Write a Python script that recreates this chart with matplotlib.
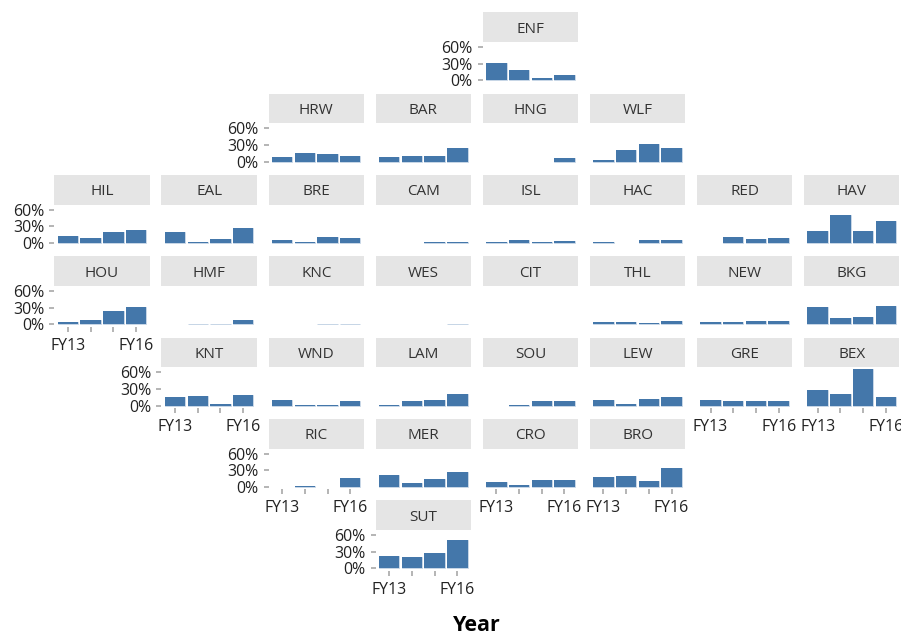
import numpy as np
import matplotlib
matplotlib.use('Agg')
import matplotlib.pyplot as plt

plt.rcParams['font.family'] = ['Open Sans', 'Noto Sans', 'DejaVu Sans']

years = ['FY13', 'FY14', 'FY15', 'FY16']
y_ticks = [0, 30, 60]

# name, column, row
panels = [('ENF', 4, 0),
          ('HRW', 2, 1), ('BAR', 3, 1), ('HNG', 4, 1), ('WLF', 5, 1),
          ('HIL', 0, 2), ('EAL', 1, 2), ('BRE', 2, 2), ('CAM', 3, 2),
          ('ISL', 4, 2), ('HAC', 5, 2), ('RED', 6, 2), ('HAV', 7, 2),
          ('HOU', 0, 3), ('HMF', 1, 3), ('KNC', 2, 3), ('WES', 3, 3),
          ('CIT', 4, 3), ('THL', 5, 3), ('NEW', 6, 3), ('BKG', 7, 3),
          ('KNT', 1, 4), ('WND', 2, 4), ('LAM', 3, 4), ('SOU', 4, 4),
          ('LEW', 5, 4), ('GRE', 6, 4), ('BEX', 7, 4),
          ('RIC', 2, 5), ('MER', 3, 5), ('CRO', 4, 5), ('BRO', 5, 5),
          ('SUT', 3, 6)]

n = None
values = {
    'ENF': [31, 18, 4, 9.5],
    'HRW': [8.5, 15, 14, 10], 'BAR': [8, 9.5, 10, 25],
    'HNG': [n, n, n, 6], 'WLF': [3, 21, 32.5, 24],
    'HIL': [12, 9, 20, 24], 'EAL': [19, 1, 6.5, 27],
    'BRE': [5, 1, 10, 9], 'CAM': [n, n, 1, 1],
    'ISL': [1, 5, 1, 3], 'HAC': [1, n, 5, 5],
    'RED': [n, 11.5, 6.5, 8.5], 'HAV': [22, 51, 21, 40],
    'HOU': [5, 7, 24.5, 31], 'HMF': [n, 0.3, 0.3, 7],
    'KNC': [n, n, 0.3, 0.3], 'WES': [n, n, n, 0.3],
    'CIT': [n, n, n, n], 'THL': [3.5, 3.5, 2.5, 6.5],
    'NEW': [5, 3.5, 6.5, 6.5], 'BKG': [30.5, 11.5, 13, 32.5],
    'KNT': [15.5, 17, 2, 20], 'WND': [9.5, 1.5, 1.5, 8],
    'LAM': [1.5, 8, 9.5, 21.5], 'SOU': [n, 1, 7.5, 7.5],
    'LEW': [9.5, 3.5, 11.5, 15.5], 'GRE': [9.5, 8, 8, 8],
    'BEX': [29, 21.5, 65.4, 15],
    'RIC': [n, 1.5, n, 15.5], 'MER': [21.5, 6.5, 14, 26],
    'CRO': [9.5, 4, 13, 13], 'BRO': [17.5, 19, 10, 33.5],
    'SUT': [22, 20.5, 26.5, 50],
}

# panels with the x axis / y axis drawn
x_axis = ['HOU', 'KNT', 'RIC', 'SUT', 'CRO', 'BRO', 'GRE', 'BEX']
y_axis = ['ENF', 'HRW', 'HIL', 'HOU', 'KNT', 'RIC', 'SUT']

W, H = 901, 632
fig = plt.figure(figsize=(W/100, H/100), dpi=100)

left0, dx = 54.3, 107.1
top0, dy = 12.4, 81.3
strip_w, strip_h = 95.4, 29.6
panel_h = 38.4 + 2.5   # strip bottom to just under the zero line
per_px = 60/33.3


def add_px_axes(x, y, w, h):
    return fig.add_axes([x/W, 1-(y+h)/H, w/W, h/H])


for name, col, row in panels:
    x0 = left0 + col*dx
    y0 = top0 + row*dy

    st = add_px_axes(x0, y0, strip_w, strip_h)
    st.set_facecolor('#e5e5e5')
    st.set_xticks([])
    st.set_yticks([])
    for s in st.spines.values():
        s.set_visible(False)
    st.text(0.5, 0.43, name, transform=st.transAxes, ha='center', va='center',
            fontsize=11, color='#333333')

    ax = add_px_axes(x0, y0+strip_h, strip_w, panel_h)
    ax.patch.set_alpha(0)
    for s in ax.spines.values():
        s.set_visible(False)
    vals = values[name]
    xs = [i for i, v in enumerate(vals) if v is not None]
    hs = [vals[i] for i in xs]
    # pale outline goes under the fill so thin bars stay blue
    ax.bar(xs, hs, width=0.9, color='none', edgecolor='#c6d5e6', linewidth=0.7, zorder=1)
    ax.bar(xs, hs, width=0.9, color='#4477aa', linewidth=0, zorder=2)
    ax.set_xlim(-0.6, 3.6)
    ax.set_ylim(-2.5*per_px, 38.4*per_px)

    if name in x_axis:
        ax.set_xticks(range(4))
        ax.set_xticklabels([years[0], '', '', years[3]], fontsize=11.4, color='#222222')
        ax.tick_params(axis='x', length=3.6, width=1.1, color='#a0a0a0', pad=4.2)
    else:
        ax.set_xticks([])
    ax.set_yticks(y_ticks)
    if name in y_axis:
        ax.set_yticklabels(['%d%%' % t for t in y_ticks], fontsize=11.4, color='#222222')
        ax.tick_params(axis='y', length=3.6, width=1.1, color='#a0a0a0', pad=3.5)
    else:
        ax.set_yticks([])

fig.text(477/W, 1-631/H, 'Year', ha='center', va='baseline', fontsize=15.5, fontweight='bold', color='black')
fig.savefig('out.png', dpi=100)
